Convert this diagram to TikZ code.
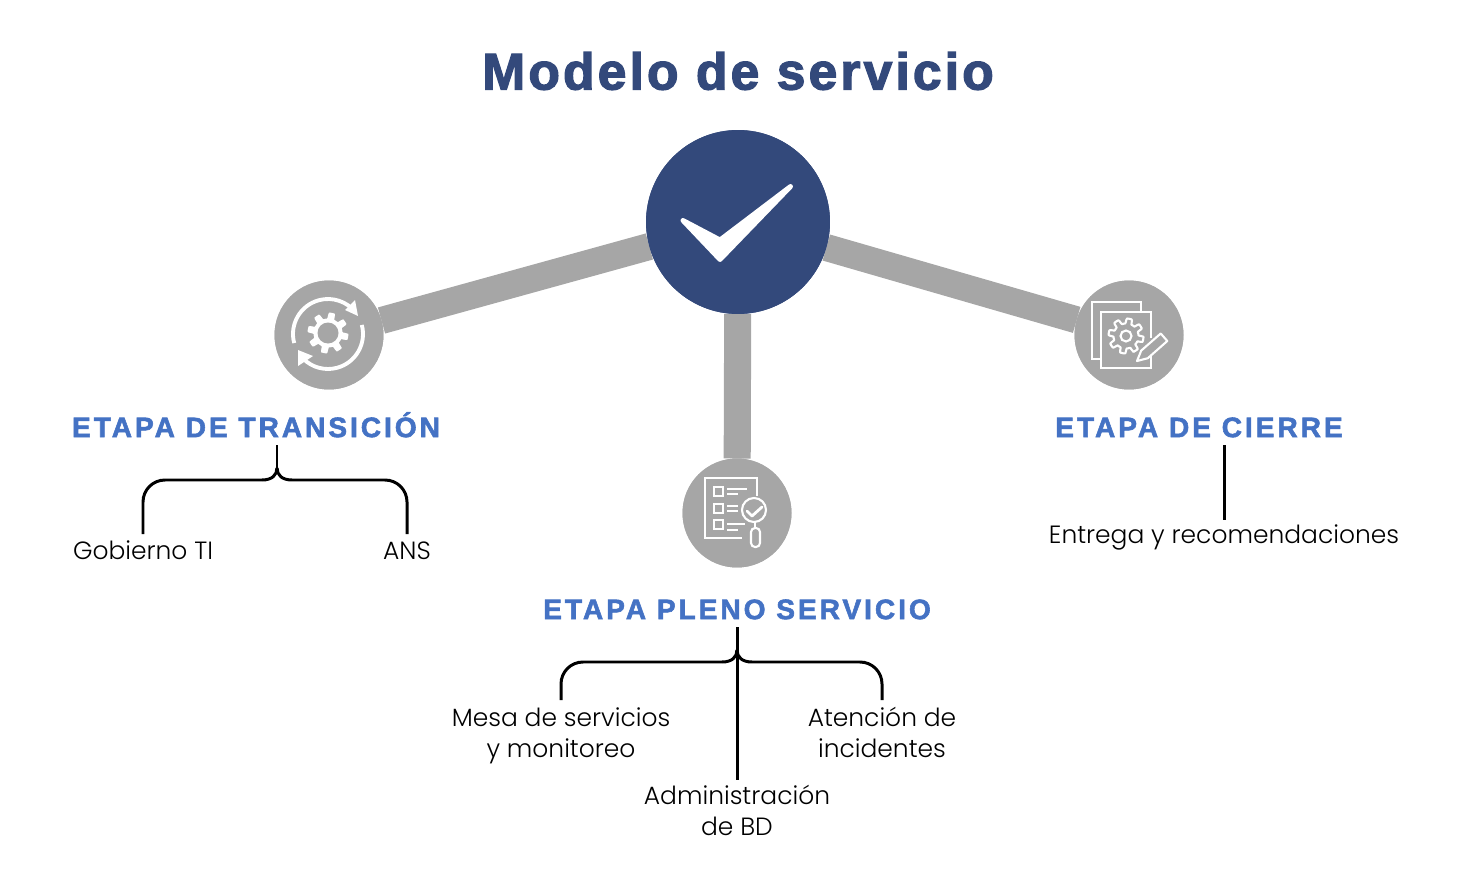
\documentclass[tikz,border=0pt]{standalone}
\usepackage{fontspec}
\setmainfont{Poppins Light}
\newfontfamily\titlefont[FakeBold=2.4,LetterSpace=6]{Liberation Sans Bold}
\newfontfamily\headfont[FakeBold=2,LetterSpace=10.5]{Liberation Sans Bold}
\newcommand{\itemstrut}{\rule[-3.9pt]{0pt}{17pt}}
\usetikzlibrary{positioning,calc}
\definecolor{hubblue}{HTML}{33497B}
\definecolor{headblue}{HTML}{4472C4}
\definecolor{spokegray}{HTML}{A6A6A6}

\begin{document}
\begin{tikzpicture}[x=0.02cm, y=-0.02cm,
    every node/.style={inner sep=0pt, outer sep=0pt},
    hub/.style={circle, fill=hubblue, minimum size=3.68cm},
    stage/.style={circle, fill=spokegray, minimum size=2.18cm},
    spoke/.style={draw=spokegray, line width=15.4pt},
    title/.style={font=\titlefont\fontsize{29.4}{32}\selectfont, text=hubblue},
    head/.style={font=\headfont\fontsize{16}{18}\selectfont, text=headblue, text height=11.5pt, text depth=0pt, minimum height=0.72cm},
    item/.style={font=\fontsize{14.2}{17.2}\selectfont, align=center},
    bracket/.style={draw=black, line width=1.7pt},
    icon/.style={draw=white, line width=1.2pt},
    iconfill/.style={fill=white, draw=none}]
    \useasboundingbox (0,0) rectangle (1476,885);

    \node (title) at (738,71) [title] {Modelo de servicio};
    \node (hub) at (738,222) [hub] {};
    \node (transition) at (329,335) [stage] {};
    \node (full) at (737,513) [stage] {};
    \node (closing) at (1129,335) [stage] {};

    \node (transitionhead) at (256,427) [head] {ETAPA DE TRANSICIÓN};
    \node (fullhead) at (737,609) [head] {ETAPA PLENO SERVICIO};
    \node (closinghead) at (1199,427) [head] {ETAPA DE CIERRE};

    \node (gobierno) at (143,551) [item, minimum height=0.68cm] {Gobierno TI\itemstrut};
    \node (ans) at (407,551) [item, minimum height=0.68cm] {ANS\itemstrut};
    \node (entrega) at (1224,535) [item, minimum height=0.48cm] {Entrega y recomendaciones\itemstrut};
    \node (mesa) at (561,734) [item, minimum height=1.36cm] {Mesa de servicios\itemstrut\\y monitoreo\itemstrut};
    \node (atencion) at (882,734) [item, minimum height=1.36cm] {Atención de\itemstrut\\incidentes\itemstrut};
    \node (admin) at (737,812) [item, minimum height=1.28cm] {Administración\itemstrut\\de BD\itemstrut};

    % spokes go first, then the circles again on top
    \draw[spoke] (hub) -- (transition);
    \draw[spoke] (hub) -- (full);
    \draw[spoke] (hub) -- (closing);
    \node at (hub) [hub] {};
    \node at (transition) [stage] {};
    \node at (full) [stage] {};
    \node at (closing) [stage] {};

    % check mark
    \filldraw[white, line width=2.8pt, line join=round] (683,220.5) -- (720,240) -- (790.5,186.5) -- (720,259.5) -- cycle;

    % brackets
    \coordinate (transitionfork) at ($(transitionhead.south)+(21,23)$);
    \draw[bracket] ($(transitionhead.south)+(21,0)$) -- (transitionfork);
    \foreach \leaf/\side in {gobierno/-1, ans/1} {
        \draw[bracket, rounded corners=0.44cm] (\leaf.north) |- ($(transitionfork)+(\side*15,12)$);
        \draw[bracket] ($(transitionfork)+(\side*15,12)$) .. controls +(-\side*10,0) and +(0,7) .. (transitionfork);
    }

    \coordinate (fullfork) at ($(fullhead.south)+(0,23)$);
    \draw[bracket] (fullhead.south) -- (admin.north);
    \foreach \leaf/\side in {mesa/-1, atencion/1} {
        \draw[bracket, rounded corners=0.44cm] (\leaf.north) |- ($(fullfork)+(\side*15,12)$);
        \draw[bracket] ($(fullfork)+(\side*15,12)$) .. controls +(-\side*10,0) and +(0,7) .. (fullfork);
    }

    \draw[bracket] (closinghead.south -| entrega.north) -- (entrega.north);

    % transition icon
    \draw[icon, line width=2.2pt] (328,334) ++(165:35) arc[start angle=165, end angle=322, radius=35];
    \draw[icon, line width=2.2pt] (328,334) ++(-15:35) arc[start angle=-15, end angle=135, radius=35];
    \fill[iconfill] (345,310) -- (358,316) -- (355,300) -- cycle;
    \fill[iconfill] (298,366) -- (298,350) -- (313,356) -- cycle;
    \fill[iconfill, shift={(328,333)}, samples=145, domain=0:358]
        plot ({\x}:{17.5+3*max(-1,min(1,3*sin(8*\x)))}) -- cycle;
    \fill[spokegray] (328,333) circle[radius=10.5];

    % full service icon
    \draw[icon] (757,496) -- (757,478) -- (705,478) -- (705,538) -- (742,538);
    \foreach \y in {491.5,508.5,524.5} {
        \draw[icon] (714,\y-4.5) rectangle (723,\y+4.5);
    }
    \draw[icon] (727,489) -- (747,489) (727,494) -- (738,494);
    \draw[icon] (727,506) -- (738,506) (727,511) -- (738,511);
    \draw[icon] (727,524) -- (745,524) (727,530) -- (738,530);
    \draw[icon, fill=spokegray] (754,510) circle[radius=12];
    \draw[icon, line width=1.6pt, line cap=round, line join=round] (747,511) -- (752,516) -- (762,507);
    \draw[icon] (755,522) -- (755,528);
    \draw[icon, rounded corners=0.08cm] (751,528) rectangle (760,547);

    % closing icon
    \draw[icon] (1101,359) -- (1092,359) -- (1092,302) -- (1141,302) -- (1141,311);
    \draw[icon] (1151,338) -- (1151,312) -- (1101,312) -- (1101,368) -- (1151,368) -- (1151,355);
    \draw[icon, shift={(1126,336)}, samples=145, domain=0:358, line join=round]
        plot ({\x}:{15+2.5*max(-1,min(1,3*sin(8*\x)))}) -- cycle;
    \draw[icon] (1126,336) circle[radius=5.5];
    \draw[icon, fill=spokegray, line join=round] (1137,361) -- (1141.2,350.6) -- (1160.7,333.5) -- (1167.3,341) -- (1147.8,358.2) -- cycle;
\end{tikzpicture}
\end{document}
